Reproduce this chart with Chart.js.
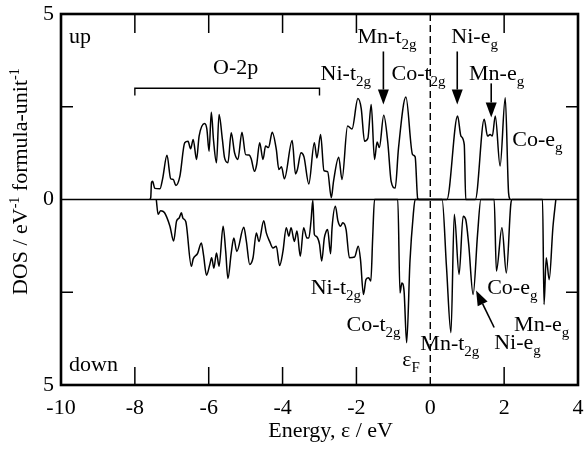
<!DOCTYPE html>
<html>
<head>
<meta charset="utf-8">
<script src="https://cdn.jsdelivr.net/npm/chart.js@4/dist/chart.umd.min.js"></script>
<style>
  body { margin: 0; background: #fff; }
</style>
</head>
<body>
<canvas id="dos" width="584" height="453"></canvas>
<script>
'use strict';
// spin-up DOS (energy in eV, states / eV / formula unit)
var upEnergy = [-7.60, -7.57, -7.55, -7.52, -7.46, -7.32, -7.25, -7.13, -7.03, -6.96, -6.89, -6.78, -6.65, -6.56, -6.49,
  -6.42, -6.33, -6.26, -6.11, -6.05, -5.99, -5.93, -5.87, -5.79, -5.72, -5.63, -5.57, -5.48, -5.39, -5.30, -5.21, -5.10,
  -5.00, -4.91, -4.85, -4.76, -4.70, -4.62, -4.53, -4.46, -4.38, -4.28, -4.17, -4.10, -4.03, -3.95, -3.74, -3.65, -3.60,
  -3.50, -3.42, -3.29, -3.14, -3.07, -2.97, -2.88, -2.78, -2.68, -2.62, -2.48, -2.39, -2.24, -2.12, -1.96, -1.87, -1.78,
  -1.69, -1.60, -1.51, -1.44, -1.38, -1.26, -1.15, -1.06, -0.95, -0.86, -0.66, -0.48, -0.41, -0.34, -0.30, 0.45, 0.74,
  0.83, 0.92, 0.96, 1.22, 1.46, 1.55, 1.62, 1.68, 1.76, 1.89, 2.03, 2.12, 2.16];
var upDos = [0, 0.05, 0.45, 0.49, 0.30, 0.29, 0.55, 1.19, 0.56, 0.54, 0.38, 0.63, 1.53, 1.57, 1.37,
  1.62, 1.08, 1.71, 2.05, 1.90, 1.30, 2.35, 1.60, 0.99, 2.29, 1.62, 1.12, 0.99, 1.80, 1.26, 1.08, 1.81,
  1.21, 1.20, 1.10, 0.76, 0.95, 1.53, 1.08, 1.44, 1.40, 1.81, 1.35, 0.81, 0.88, 0.56, 1.59, 0.69, 0.80,
  1.26, 1.15, 0.42, 1.53, 1.12, 1.75, 0.78, 0.75, 0.05, 0.49, 1.14, 0.54, 1.98, 1.90, 2.72, 2.45, 1.57,
  1.65, 2.56, 1.08, 1.55, 1.40, 2.27, 1.53, 0.49, 0.31, 1.39, 2.76, 1.21, 1.15, 0.02, 0, 0, 2.25,
  1.71, 1.48, 0, 0, 2.16, 1.71, 1.75, 1.71, 2.25, 0.90, 2.74, 0.18, 0];

// spin-down DOS (plotted downwards)
var downEnergy = [-7.42, -7.37, -7.30, -7.20, -7.05, -6.95, -6.87, -6.80, -6.74, -6.70, -6.62, -6.47, -6.42, -6.30, -6.20,
  -6.14, -6.06, -5.97, -5.92, -5.86, -5.79, -5.72, -5.61, -5.54, -5.48, -5.39, -5.32, -5.24, -5.05, -4.98, -4.89, -4.80,
  -4.71, -4.64, -4.51, -4.44, -4.35, -4.26, -4.17, -4.08, -3.99, -3.90, -3.83, -3.77, -3.68, -3.61, -3.52, -3.43, -3.34,
  -3.29, -3.23, -3.18, -3.14, -3.09, -3.05, -3.00, -2.94, -2.87, -2.82, -2.78, -2.70, -2.66, -2.57, -2.50, -2.43, -2.37,
  -2.28, -2.19, -2.05, -1.95, -1.89, -1.81, -1.74, -1.67, -1.61, -1.56, -1.51, -0.88, -0.82, -0.77, -0.71, -0.64, -0.55,
  -0.46, -0.41, 0.32, 0.44, 0.56, 0.65, 0.78, 0.89, 0.96, 1.04, 1.16, 1.28, 1.37, 1.73, 1.79, 1.94, 2.06, 2.18, 2.22,
  3.04, 3.08, 3.14, 3.22, 3.32, 3.40];
var downDos = [0, -0.40, -0.30, -0.35, -0.72, -1.12, -0.58, -0.50, -0.36, -0.50, -0.60, -1.80, -1.60, -1.45, -1.17,
  -1.50, -2.04, -1.75, -1.57, -1.85, -1.44, -1.80, -0.72, -1.40, -2.13, -1.44, -1.04, -1.40, -0.75, -1.13, -1.75, -1.57,
  -0.90, -1.13, -0.57, -0.90, -1.13, -1.31, -1.26, -1.78, -1.40, -0.76, -0.99, -0.76, -1.13, -0.85, -1.53, -0.76, -1.04,
  -1.04, -0.58, -0.02, -0.94, -0.99, -1.04, -1.20, -1.66, -1.04, -0.86, -0.81, -1.46, -0.76, -0.18, -0.58, -0.72, -0.63,
  -0.81, -1.57, -1.55, -1.26, -1.62, -2.56, -2.15, -2.11, -2.20, -1.03, 0, 0, -2.52, -2.25, -2.47, -3.86, -1.66,
  -0.40, 0, 0, -1.84, -3.59, -0.40, -2.02, -0.45, -0.54, -1.21, -2.56, -0.94, 0, 0, -1.93, -0.76, -1.98, -0.13, 0,
  0, -2.83, -1.57, -2.16, -0.76, 0];

var xTicks = [-10, -8, -6, -4, -2, 0, 2, 4];
var yTicks = [-5, 0, 5];
var innerXTicks = [-8, -6, -4, -2, 2];
var innerYTicks = [-2.5, 2.5];

// peak assignments: [main text, subscript, energy, DOS at baseline]
var peakLabels = [
  ['up', '', -9.78, 4.23],
  ['down', '', -9.78, -4.61],
  ['Mn-t', '2g', -1.97, 4.23],
  ['Ni-t', '2g', -2.97, 3.23],
  ['Co-t', '2g', -1.05, 3.23],
  ['Ni-e', 'g', 0.57, 4.23],
  ['Mn-e', 'g', 1.05, 3.23],
  ['Co-e', 'g', 2.22, 1.44],
  ['Ni-t', '2g', -3.24, -2.56],
  ['Co-t', '2g', -2.27, -3.55],
  ['\u03b5', 'F', -0.76, -4.49],
  ['Mn-t', '2g', -0.27, -4.07],
  ['Ni-e', 'g', 1.73, -4.04],
  ['Co-e', 'g', 1.54, -2.56],
  ['Mn-e', 'g', 2.27, -3.55]
];
// arrows: [from energy, from DOS, to energy, to DOS]
var arrows = [
  [-1.27, 3.99, -1.27, 2.56],
  [0.73, 3.99, 0.73, 2.56],
  [1.65, 3.13, 1.65, 2.21],
  [1.73, -3.45, 1.24, -2.45]
];

var FONT = "'Liberation Serif', 'Times New Roman', serif";

function drawParts(ctx, x, y, parts) {
  var cx = x;
  parts.forEach(function (p) {
    ctx.font = p[1] + 'px ' + FONT;
    ctx.fillText(p[0], cx, y + p[2]);
    cx += ctx.measureText(p[0]).width;
  });
  return cx - x;
}

function partsWidth(ctx, parts) {
  var w = 0;
  parts.forEach(function (p) {
    ctx.font = p[1] + 'px ' + FONT;
    w += ctx.measureText(p[0]).width;
  });
  return w;
}

function noPad(s) {
  s.paddingTop = 0; s.paddingBottom = 0; s.paddingLeft = 0; s.paddingRight = 0;
}

var decor = {
  id: 'decor',
  beforeDatasetsDraw: function (chart) {
    var ctx = chart.ctx, a = chart.chartArea, xs = chart.scales.x, ys = chart.scales.y;
    ctx.save();
    ctx.strokeStyle = '#000';
    ctx.lineWidth = 1.6;
    ctx.beginPath();
    ctx.moveTo(a.left, ys.getPixelForValue(0));
    ctx.lineTo(a.right, ys.getPixelForValue(0));
    ctx.stroke();
    ctx.lineWidth = 1.4;
    ctx.setLineDash([7, 4]);
    ctx.beginPath();
    ctx.moveTo(xs.getPixelForValue(0), a.top);
    ctx.lineTo(xs.getPixelForValue(0), a.bottom);
    ctx.stroke();
    ctx.restore();
  },
  afterDraw: function (chart) {
    var ctx = chart.ctx, a = chart.chartArea, xs = chart.scales.x, ys = chart.scales.y;
    ctx.save();
    ctx.strokeStyle = '#000';
    ctx.fillStyle = '#000';

    // frame
    ctx.lineWidth = 2.6;
    ctx.strokeRect(a.left, a.top, a.right - a.left, a.bottom - a.top);

    // inward ticks
    ctx.lineWidth = 1.5;
    ctx.beginPath();
    innerXTicks.forEach(function (v) {
      var px = xs.getPixelForValue(v);
      ctx.moveTo(px, a.bottom); ctx.lineTo(px, a.bottom - 18);
      ctx.moveTo(px, a.top); ctx.lineTo(px, a.top + 19);
    });
    innerYTicks.forEach(function (v) {
      var py = ys.getPixelForValue(v);
      ctx.moveTo(a.left, py); ctx.lineTo(a.left + 12, py);
      ctx.moveTo(a.right, py); ctx.lineTo(a.right - 12, py);
    });
    ctx.stroke();

    // O-2p bracket
    var bx0 = xs.getPixelForValue(-8), bx1 = xs.getPixelForValue(-3);
    var by = ys.getPixelForValue(3.0), byEnd = ys.getPixelForValue(2.8);
    ctx.lineWidth = 1.4;
    ctx.beginPath();
    ctx.moveTo(bx0, byEnd); ctx.lineTo(bx0, by); ctx.lineTo(bx1, by); ctx.lineTo(bx1, byEnd);
    ctx.stroke();
    ctx.textAlign = 'center';
    ctx.textBaseline = 'alphabetic';
    ctx.font = '22px ' + FONT;
    ctx.fillText('O-2p', xs.getPixelForValue(-5.27), ys.getPixelForValue(3.37));

    // peak labels
    ctx.textAlign = 'left';
    peakLabels.forEach(function (l) {
      var parts = [[l[0], 22, 0]];
      if (l[1]) parts.push([l[1], 15, 6]);
      drawParts(ctx, xs.getPixelForValue(l[2]), ys.getPixelForValue(l[3]), parts);
    });

    // arrows
    arrows.forEach(function (r) {
      var x0 = xs.getPixelForValue(r[0]), y0 = ys.getPixelForValue(r[1]);
      var x1 = xs.getPixelForValue(r[2]), y1 = ys.getPixelForValue(r[3]);
      var ang = Math.atan2(y1 - y0, x1 - x0);
      var hl = 15, hw = 5.5;
      var bxp = x1 - hl * Math.cos(ang), byp = y1 - hl * Math.sin(ang);
      ctx.lineWidth = 1.6;
      ctx.beginPath(); ctx.moveTo(x0, y0); ctx.lineTo(bxp, byp); ctx.stroke();
      ctx.beginPath();
      ctx.moveTo(x1, y1);
      ctx.lineTo(bxp + hw * Math.sin(ang), byp - hw * Math.cos(ang));
      ctx.lineTo(bxp - hw * Math.sin(ang), byp + hw * Math.cos(ang));
      ctx.closePath();
      ctx.fill();
    });

    // axis titles
    ctx.font = '22px ' + FONT;
    ctx.textAlign = 'center';
    ctx.fillText('Energy, \u03b5 / eV', xs.getPixelForValue(-2.7), a.bottom + 52);

    var yParts = [['DOS / eV', 22, 0], ['-1', 14, -8], [' formula-unit', 22, 0], ['-1', 14, -8]];
    ctx.textAlign = 'left';
    var w = partsWidth(ctx, yParts);
    ctx.translate(27, ys.getPixelForValue(0.48));
    ctx.rotate(-Math.PI / 2);
    drawParts(ctx, -w / 2, 0, yParts);
    ctx.restore();
  }
};

var ctx = document.getElementById('dos').getContext('2d');
var dosChart = new Chart(ctx, {
  type: 'line',
  data: {
    datasets: [{
      label: 'up',
      data: upEnergy.map(function (e, i) { return { x: e, y: upDos[i] }; }),
      borderColor: '#000',
      borderWidth: 1.5,
      pointRadius: 0,
      cubicInterpolationMode: 'monotone',
      fill: false
    }, {
      label: 'down',
      data: downEnergy.map(function (e, i) { return { x: e, y: downDos[i] }; }),
      borderColor: '#000',
      borderWidth: 1.5,
      pointRadius: 0,
      cubicInterpolationMode: 'monotone',
      fill: false
    }]
  },
  options: {
    responsive: false,
    animation: false,
    devicePixelRatio: 1,
    layout: { padding: { top: 14, right: 6, left: 0, bottom: 0 } },
    plugins: { legend: { display: false }, tooltip: { enabled: false } },
    scales: {
      x: {
        type: 'linear',
        min: -10,
        max: 4,
        afterFit: function (s) { s.height = 68; noPad(s); },
        afterBuildTicks: function (s) { s.ticks = xTicks.map(function (v) { return { value: v }; }); },
        grid: { display: false, drawTicks: false },
        border: { display: false },
        ticks: { color: '#000', padding: 10, maxRotation: 0, autoSkip: false, font: { family: FONT, size: 22 } }
      },
      y: {
        type: 'linear',
        min: -5,
        max: 5,
        afterFit: function (s) { s.width = 61; noPad(s); },
        afterBuildTicks: function (s) { s.ticks = yTicks.map(function (v) { return { value: v }; }); },
        grid: { display: false, drawTicks: false },
        border: { display: false },
        ticks: {
          color: '#000', padding: 7, autoSkip: false, font: { family: FONT, size: 22 },
          callback: function (v) { return Math.abs(v); }
        }
      }
    }
  },
  plugins: [decor]
});
</script>
</body>
</html>
